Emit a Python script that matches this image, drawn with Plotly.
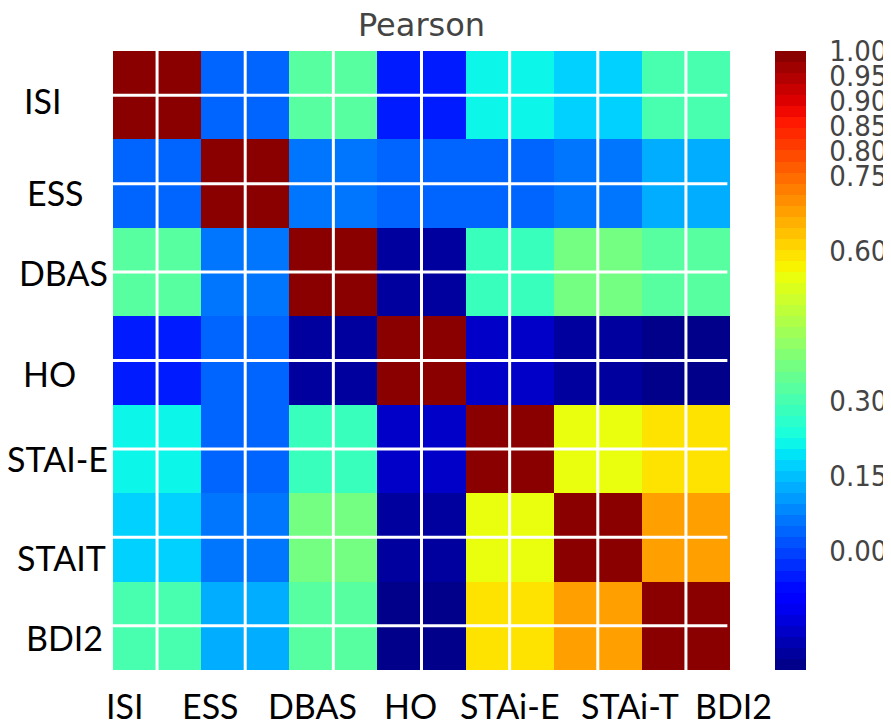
import plotly.graph_objects as go
import numpy as np

# ---- data ----
row_labels = ["ISI", "ESS", "DBAS", "HO", "STAI-E", "STAIT", "BDI2"]
col_labels = ["ISI", "ESS", "DBAS", "HO", "STAi-E", "STAi-T", "BDI2"]

r_isi   = [1.00, 0.03, 0.33, -0.05, 0.21, 0.18, 0.31]
r_ess   = [0.03, 1.00, 0.05, 0.04, 0.03, 0.05, 0.12]
r_dbas  = [0.33, 0.05, 1.00, -0.20, 0.29, 0.375, 0.33]
r_ho    = [-0.05, 0.04, -0.20, 1.00, -0.17, -0.20, -0.23]
r_staie = [0.21, 0.03, 0.29, -0.17, 1.00, 0.55, 0.60]
r_stait = [0.18, 0.05, 0.375, -0.20, 0.55, 1.00, 0.69]
r_bdi2  = [0.31, 0.12, 0.33, -0.23, 0.60, 0.69, 1.00]

cbar_ticks = [1.00, 0.95, 0.90, 0.85, 0.80, 0.75, 0.60, 0.30, 0.15, 0.00]
zmin, zmax = -0.238, 1.0

z = [r_isi, r_ess, r_dbas, r_ho, r_staie, r_stait, r_bdi2]

# ---- layout constants (screen pixels; page body has an 8px margin) ----
OFF = 8
W, H = 891 - OFF, 722 - OFF
L, R, T, B = 113 - OFF, 730 - OFF, 51 - OFF, 670 - OFF
CB_X = 775 - OFF
TITLE_Y = 25 - OFF
xlab_px = [125, 210, 312, 410, 510, 630, 733]
xlab_y = 705
ylab_px = [(43, 100), (55, 192), (63, 272), (49, 373), (57, 458), (62, 557), (65, 637)]


def jet(f):
    def seg(pts, x):
        xs = [p[0] for p in pts]
        ys = [p[1] for p in pts]
        return float(np.interp(x, xs, ys))
    r = seg([(0, 0), (0.35, 0), (0.66, 1), (0.89, 1), (1, 0.5)], f)
    g = seg([(0, 0), (0.125, 0), (0.375, 1), (0.64, 1), (0.91, 0), (1, 0)], f)
    b = seg([(0, 0.5), (0.11, 1), (0.34, 1), (0.65, 0), (1, 0)], f)
    return "rgb(%d,%d,%d)" % (round(r * 255), round(g * 255), round(b * 255))


N = 56
cs = []
for i in range(N):
    c = jet((i + 0.5) / N)
    cs.append([i / N, c])
    cs.append([(i + 1) / N, c])

n = len(col_labels)
fig = go.Figure(go.Heatmap(
    z=z, x=list(range(n)), y=list(range(n)),
    zmin=zmin, zmax=zmax, colorscale=cs,
    hoverongaps=False,
    colorbar=dict(
        x=(CB_X - L) / (R - L), xanchor="left", xpad=0,
        y=0.5, yanchor="middle", ypad=0, len=1, lenmode="fraction",
        thickness=31, outlinewidth=0,
        tickvals=cbar_ticks, ticktext=["%.2f" % v for v in cbar_ticks],
        ticks="outside", ticklen=18, tickcolor="rgba(0,0,0,0)",
        tickfont=dict(family="DejaVu Sans Condensed, DejaVu Sans", size=29, color="#444"),
    ),
))

shapes = []
for i in range(n):
    shapes.append(dict(type="line", xref="x", yref="y", x0=i, x1=i, y0=-0.5, y1=n - 0.5,
                       line=dict(color="white", width=3), layer="above"))
    shapes.append(dict(type="line", xref="x", yref="y", x0=-0.5, x1=n - 0.53, y0=i, y1=i,
                       line=dict(color="white", width=3), layer="above"))

ann = []
lab_font = dict(family="Lato, Liberation Sans", size=34, color="black")
for lbl, px in zip(col_labels, xlab_px):
    ann.append(dict(text=lbl, xref="paper", yref="paper",
                    x=(px - OFF - L) / (R - L), y=(B - (xlab_y - OFF)) / (B - T),
                    xanchor="center", yanchor="middle", showarrow=False, font=lab_font))
for lbl, (px, py) in zip(row_labels, ylab_px):
    ann.append(dict(text=lbl, xref="paper", yref="paper",
                    x=(px - OFF - L) / (R - L), y=(B - (py - OFF)) / (B - T),
                    xanchor="center", yanchor="middle", showarrow=False, font=lab_font))

fig.update_layout(
    width=W, height=H,
    margin=dict(l=L, r=W - R, t=T, b=H - B, pad=0, autoexpand=False),
    paper_bgcolor="white", plot_bgcolor="white",
    title=dict(text="Pearson", x=0.5, xref="paper", xanchor="center",
               y=1 - TITLE_Y / H, yref="container", yanchor="middle",
               font=dict(family="DejaVu Sans", size=32, color="#444")),
    xaxis=dict(range=[-0.5, n - 0.5], showticklabels=False, showgrid=False, zeroline=False,
               ticks="", showline=False),
    yaxis=dict(range=[n - 0.5, -0.5], showticklabels=False, showgrid=False, zeroline=False,
               ticks="", showline=False),
    shapes=shapes, annotations=ann,
)

fig.write_html("out.html")
